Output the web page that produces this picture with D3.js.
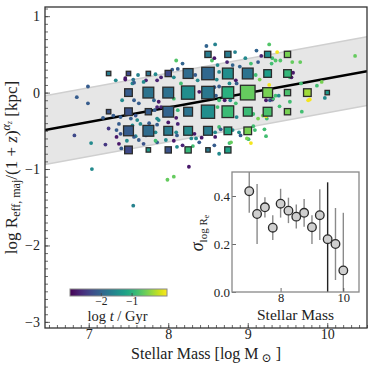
<!DOCTYPE html>
<html>
<head>
<meta charset="utf-8">
<script src="https://cdn.jsdelivr.net/npm/d3@7"></script>
<style>
  body { margin: 0; background: #fff; }
  text { font-family: "Liberation Serif", "DejaVu Serif", serif; fill: #222; }
</style>
</head>
<body>
<div id="chart"></div>
<script>
// binned squares: [log mass, log size, count, log age]
let squares = [
  [7.25, 0.25, 1, -1.7], [7.25, -0.25, 1, -2.2],
  [7.5, 0.25, 1, -2.3], [7.5, 0, 3, -2.1], [7.5, -0.25, 3, -2.2], [7.5, -0.5, 5, -2.1], [7.5, -0.75, 3, -2.3],
  [7.75, 0.25, 1, -1.8], [7.75, 0, 6, -1.8], [7.75, -0.25, 2, -2.1], [7.75, -0.5, 6, -1.9], [7.75, -0.75, 1, -1.3],
  [8.0, 0.25, 2, -2.3], [8.0, 0, 6, -1.85], [8.0, -0.25, 6, -2.0], [8.0, -0.5, 4, -1.7], [8.0, -0.75, 2, -2.2],
  [8.25, 0.25, 5, -1.9], [8.25, 0, 9, -1.45], [8.25, -0.25, 4, -1.8], [8.25, -0.5, 4, -1.5], [8.25, -0.75, 2, -0.9],
  [8.5, 0.5, 2, -1.7], [8.5, 0.25, 8, -1.95], [8.5, 0, 8, -1.75], [8.5, -0.25, 9, -1.45], [8.5, -0.5, 4, -1.7], [8.5, -0.75, 1, -1.7],
  [8.75, 0.5, 2, -1.7], [8.75, 0.25, 6, -1.45], [8.75, 0, 7, -1.0], [8.75, -0.25, 7, -0.85], [8.75, -0.5, 3, -1.1], [8.75, -0.75, 2, -1.2],
  [9.0, 0.25, 6, -1.8], [9.0, 0, 11, -0.6], [9.0, -0.25, 4, -0.85], [9.0, -0.5, 3, -0.5],
  [9.25, 0.5, 2, -1.45], [9.25, 0.25, 3, -1.25], [9.25, 0, 5, -0.5], [9.25, -0.25, 4, -0.75],
  [9.5, 0.5, 2, -0.5], [9.5, 0.25, 3, -0.9], [9.5, 0, 2, -0.75], [9.5, -0.25, 2, -0.5],
  [9.75, 0, 3, -0.3],
  [10.0, 0, 1, -1.3]
]

// individual galaxies: [log mass, log size, log age]
let dots = [
  [6.85,-0.06,-2.1],[6.99,0.08,-2.1],[6.99,-0.14,-2.1],[6.82,-0.56,-2.3],[7.03,-0.66,-1.5],
  [7.21,-0.68,-2.5],[7.25,-0.47,-2.5],[7.18,-0.33,-2.1],[7.04,-1.00,-1.5],[7.34,0.16,-1.5],
  [7.38,-0.67,-2.8],[7.41,-0.73,-2.1],[7.46,0.17,-2.8],[7.55,0.12,-1.5],[7.62,0.23,-1.6],
  [7.56,0.17,-1.8],[7.72,0.16,-2.7],[7.42,-0.10,-1.5],[7.40,-0.32,-2.1],[7.57,-0.10,-2.1],
  [7.59,-0.30,-2.2],[7.61,-0.36,-1.5],[7.55,-0.43,-1.5],[7.38,-0.41,-2.1],[7.31,-0.30,-2.1],
  [7.40,-0.54,-2.2],[7.63,-0.62,-2.1],[7.59,-0.57,-1.6],[7.69,-0.67,-2.2],[7.86,-0.65,-2.1],
  [7.86,-0.34,-1.5],[7.83,-0.23,-2.1],[7.82,-0.10,-2.0],[7.91,-0.19,-2.7],[7.86,0.16,-2.7],
  [8.10,0.42,-0.7],[8.18,0.38,-2.0],[8.12,0.31,-2.1],[8.05,0.30,-2.1],[8.07,0.20,-1.5],
  [8.16,0.12,-0.8],[8.07,-0.08,-0.8],[8.12,-0.23,-0.9],[8.10,-0.33,-2.8],[8.12,-0.41,-2.7],
  [8.10,-0.52,-1.5],[8.07,-0.63,-2.8],[8.18,-0.69,-2.7],[8.11,-0.71,-1.5],[8.26,-0.97,-2.8],
  [8.07,-1.10,-0.6],[7.99,-1.14,-0.6],[7.56,-1.48,-1.6],[8.48,0.61,-2.0],[8.59,0.63,-1.6],
  [8.55,0.42,-0.7],[8.58,0.45,-2.8],[8.62,0.36,-1.5],[8.64,0.27,-1.5],[8.74,0.40,-2.7],
  [8.84,0.53,-1.6],[8.81,0.36,-2.0],[8.90,0.34,-2.0],[8.97,0.45,-1.5],[9.04,0.38,-0.8],
  [9.11,0.55,-2.0],[9.17,0.48,-2.7],[9.13,0.40,-2.1],[9.10,0.23,-0.8],[9.15,0.17,-0.5],
  [9.27,0.63,-0.7],[9.31,0.45,-0.8],[9.30,0.38,-0.8],[9.35,0.42,-0.7],[9.37,0.53,0.1],
  [9.41,0.42,-0.7],[9.57,0.26,-2.8],[9.56,0.40,-0.6],[9.66,0.40,-0.6],[9.53,0.20,-0.8],
  [9.67,0.12,-0.8],[9.87,0.09,-0.8],[9.93,0.14,-0.5],[10.35,0.48,-0.6],[9.27,0.10,0.1],
  [9.35,-0.04,-0.8],[9.28,-0.10,-2.1],[9.23,-0.10,-2.8],[9.31,-0.09,-2.8],[9.40,-0.18,-0.8],
  [9.53,-0.12,-0.8],[9.68,-0.25,-0.8],[9.78,-0.09,0.1],[9.97,-0.07,-1.5],[9.19,-0.30,-0.5],
  [9.13,-0.34,-0.5],[9.24,-0.34,-0.8],[9.07,-0.28,-0.8],[8.85,-0.14,-0.8],[8.86,-0.32,-1.5],
  [8.64,-0.45,-0.8],[8.62,-0.19,-0.8],[8.64,-0.10,-0.8],[8.71,-0.10,-2.8],[8.78,-0.10,-1.5],
  [8.59,-0.52,-1.5],[8.59,-0.58,-2.8],[8.66,-0.48,-2.1],[8.81,-0.49,-1.5],[8.89,-0.52,-1.5],
  [8.91,-0.56,-2.1],[9.07,-0.44,-0.8],[9.09,-0.49,-0.8],[9.23,-0.57,-0.8],[9.21,-0.48,-0.8],
  [9.23,-0.31,0.1],[9.01,-0.61,-0.8],[9.04,-0.66,0.1],[8.99,-0.60,-0.5],[8.77,-0.66,-0.8],
  [8.79,-0.65,-0.6],[8.64,-0.80,-1.5],[8.58,-0.69,-2.1],[8.39,-0.65,-2.1],[8.31,-0.70,-0.8],
  [8.29,-0.60,-1.5],[8.58,0.07,-2.1],[8.39,0.01,-2.8],[8.60,-0.04,-2.1],[8.61,0.17,-1.5],
  [8.37,0.16,-1.5],[8.34,0.23,-2.1],[8.85,0.16,-2.8],[8.86,0.12,-2.1],[8.77,0.12,-1.5],
  [8.64,0.08,-2.1],[9.76,-0.10,0.1],[9.32,-0.08,-0.8],[9.39,-0.04,-1.5],[9.55,0.20,-2.8],
  [7.46,0.19,-2.8],[7.57,0.13,-2.1],[7.69,0.14,-1.5],[7.84,0.24,-1.5],[7.91,0.20,-2.7],
  [7.63,-0.14,-2.1],[7.88,-0.12,-2.8],[7.86,-0.19,-2.7],[7.88,-0.36,-1.5],[8.00,-0.39,-2.8],
  [7.53,-0.34,-2.1],[7.65,-0.41,-1.5],[7.76,-0.40,-2.1],[7.86,-0.42,-2.1],[7.35,-0.49,-2.1],
  [7.84,-0.52,-1.5],[8.03,-0.49,-2.1],[8.33,-0.54,-2.8],[8.11,-0.56,-2.1],[7.35,-0.58,-2.8],
  [7.57,-0.58,-2.1],[7.72,-0.56,-2.1],[8.35,-0.60,-1.5],[7.97,-0.62,-1.5],[7.48,-0.63,-1.5],
  [7.84,-0.63,-0.8],[8.42,-0.59,-2.8]
]

// best-fit relation and its scatter band
let fitMass = [6.45, 10.5]
let fitSize = [-0.49, 0.28]
let fitScatter = 0.45

// inset: scatter of log Re per mass bin
let binMass = [7.0, 7.25, 7.5, 7.75, 8.0, 8.25, 8.5, 8.75, 9.0, 9.25, 9.5, 9.75, 10.0]
let binSigma = [0.42, 0.325, 0.353, 0.268, 0.368, 0.339, 0.314, 0.33, 0.27, 0.32, 0.22, 0.20, 0.09]
let binLow = [0.33, 0.20, 0.31, 0.217, 0.31, 0.287, 0.265, 0.272, 0.20, 0.217, 0.0, 0.05, 0.0]
let binHigh = [0.52, 0.45, 0.395, 0.32, 0.43, 0.393, 0.365, 0.387, 0.32, 0.428, 0.457, 0.35, 0.33]

let xTicks = [7, 8, 9, 10]
let yTicks = [-3, -2, -1, 0, 1]
let cbarTicks = [-2, -1]
let insetXTicks = [8, 10]
let insetYTicks = [0, 0.2, 0.4]

let W = 374, H = 374
let margin = {top: 7, right: 7, bottom: 46, left: 45}

let svg = d3.select("#chart").append("svg")
  .attr("width", W).attr("height", H)

let x = d3.scaleLinear().domain([6.45, 10.5]).range([margin.left, W - margin.right])
let y = d3.scaleLinear().domain([-3.08, 1.12]).range([H - margin.bottom, margin.top])
let color = d3.scaleSequential(d3.interpolateViridis).domain([-3, 0.15])
let side = d3.scaleSqrt().domain([0, 14]).range([0, 16.5])

// d3 axes put a sans font on their group; drop it so the serif rule applies
function serifAxis(g, size) {
  g.attr("font-family", null).attr("font-size", null)
  g.select(".domain").remove()
  g.selectAll(".tick line").attr("stroke", "#444").attr("stroke-width", 0.8)
  g.selectAll(".tick text").style("font-size", size + "px")
}

svg.append("clipPath").attr("id", "plotclip")
  .append("rect")
  .attr("x", x.range()[0]).attr("y", y.range()[1])
  .attr("width", x.range()[1] - x.range()[0])
  .attr("height", y.range()[0] - y.range()[1])

let plot = svg.append("g").attr("clip-path", "url(#plotclip)")

// scatter band
let bandPts = fitMass.map((m, i) => [m, fitSize[i]])
let band = d3.area()
  .x(d => x(d[0]))
  .y0(d => y(d[1] - fitScatter))
  .y1(d => y(d[1] + fitScatter))
plot.append("path").datum(bandPts)
  .attr("d", band)
  .attr("fill", "#e6e6e6")
plot.selectAll(".bandedge").data([-fitScatter, fitScatter]).enter().append("line")
  .attr("x1", x(fitMass[0])).attr("x2", x(fitMass[1]))
  .attr("y1", o => y(fitSize[0] + o)).attr("y2", o => y(fitSize[1] + o))
  .attr("stroke", "#cfcfcf").attr("stroke-width", 1.5)

// fit line
plot.append("line")
  .attr("x1", x(fitMass[0])).attr("x2", x(fitMass[1]))
  .attr("y1", y(fitSize[0])).attr("y2", y(fitSize[1]))
  .attr("stroke", "#000").attr("stroke-width", 2.4)

// individual galaxies
plot.selectAll(".dot").data(dots).enter().append("circle")
  .attr("class", "dot")
  .attr("cx", d => x(d[0]))
  .attr("cy", d => y(d[1]))
  .attr("r", 1.9)
  .attr("fill", d => color(d[2]))

// binned squares
plot.selectAll(".sq").data(squares).enter().append("rect")
  .attr("class", "sq")
  .attr("x", d => x(d[0]) - side(d[2]) / 2)
  .attr("y", d => y(d[1]) - side(d[2]) / 2)
  .attr("width", d => side(d[2]))
  .attr("height", d => side(d[2]))
  .attr("fill", d => color(d[3]))
  .attr("stroke", "#2b2b2b")
  .attr("stroke-width", 1.3)

// AXES (ticks inward, minor every 0.1)
let xAxis = d3.axisBottom(x).tickValues(xTicks).tickSize(-5).tickPadding(6).tickFormat(d3.format("d"))
let yAxis = d3.axisLeft(y).tickValues(yTicks).tickSize(-5).tickPadding(5).tickFormat(d3.format("d"))
let xMinor = d3.axisBottom(x).tickValues(d3.range(6.5, 10.51, 0.1)).tickSize(-3).tickFormat("")
let yMinor = d3.axisLeft(y).tickValues(d3.range(-3.0, 1.11, 0.1)).tickSize(-3).tickFormat("")

let gx = svg.append("g").attr("transform", "translate(0," + y.range()[0] + ")")
gx.append("g").call(xMinor).call(serifAxis, 14)
gx.append("g").call(xAxis).call(serifAxis, 14)
gx.selectAll(".tick text").attr("dy", null).attr("y", 11)
let gy = svg.append("g").attr("transform", "translate(" + x.range()[0] + ",0)")
gy.append("g").call(yMinor).call(serifAxis, 14)
gy.append("g").call(yAxis).call(serifAxis, 14)

svg.append("rect")
  .attr("x", x.range()[0]).attr("y", y.range()[1])
  .attr("width", x.range()[1] - x.range()[0])
  .attr("height", y.range()[0] - y.range()[1])
  .attr("fill", "none").attr("stroke", "#333").attr("stroke-width", 1.3)

// axis titles
svg.append("text")
  .attr("x", (x.range()[0] + x.range()[1]) / 2).attr("y", 359)
  .attr("text-anchor", "middle").style("font-size", "16px")
  .call(t => {
    t.append("tspan").text("Stellar Mass [log M")
    t.append("tspan").attr("dy", 3).style("font-size", "12px").text(" \u2299")
    t.append("tspan").attr("dy", -3).text(" ]")
  })

let yl = svg.append("text")
  .attr("transform", "translate(17," + ((y.range()[0] + y.range()[1]) / 2) + ") rotate(-90)")
  .attr("text-anchor", "middle").style("font-size", "17px")
yl.append("tspan").text("log R")
yl.append("tspan").attr("dy", 3).style("font-size", "12px").text("eff, maj")
yl.append("tspan").attr("dy", -3).text("/(1 + ")
yl.append("tspan").style("font-style", "italic").text("z")
yl.append("tspan").text(")")
yl.append("tspan").attr("dy", -7).style("font-size", "12px").style("font-style", "italic").text("\u03b1")
yl.append("tspan").attr("dy", 2).style("font-size", "8px").style("font-style", "italic").text("z")
yl.append("tspan").attr("dy", 5).text(" [kpc]")

// COLORBAR
let cb = {x0: 70, x1: 167, y0: 289, h: 7}
let cbx = d3.scaleLinear().domain(color.domain()).range([cb.x0, cb.x1])
let grad = svg.append("defs").append("linearGradient").attr("id", "viridis")
d3.range(0, 1.001, 0.05).forEach(t => {
  grad.append("stop").attr("offset", t).attr("stop-color", d3.interpolateViridis(t))
})
svg.append("rect")
  .attr("x", cb.x0).attr("y", cb.y0).attr("width", cb.x1 - cb.x0).attr("height", cb.h)
  .attr("fill", "url(#viridis)").attr("stroke", "#888").attr("stroke-width", 1)
let gcb = svg.append("g").attr("transform", "translate(0," + (cb.y0 + cb.h) + ")")
  .call(d3.axisBottom(cbx).tickValues(cbarTicks).tickSize(-3).tickPadding(2).tickFormat(d3.format("d")))
  .call(serifAxis, 11.5)
gcb.selectAll(".tick text").attr("dy", null).attr("y", 9)
let cbl = svg.append("text")
  .attr("x", (cb.x0 + cb.x1) / 2 - 1).attr("y", 321)
  .attr("text-anchor", "middle").style("font-size", "14.5px")
cbl.append("tspan").text("log ")
cbl.append("tspan").style("font-style", "italic").text("t")
cbl.append("tspan").text(" / Gyr")

// INSET
let ix = d3.scaleLinear().domain([6.45, 10.5]).range([232, 359])
let iy = d3.scaleLinear().domain([0, 0.5]).range([292, 172])

svg.append("rect")
  .attr("x", 232).attr("y", 172).attr("width", 127).attr("height", 120)
  .attr("fill", "#fff")
svg.append("clipPath").attr("id", "insetclip")
  .append("rect").attr("x", 232).attr("y", 172).attr("width", 127).attr("height", 120)

let ins = svg.append("g").attr("clip-path", "url(#insetclip)")
let bins = binMass.map((m, i) => ({m: m, s: binSigma[i], lo: binLow[i], hi: binHigh[i]}))
ins.selectAll(".err").data(bins).enter().append("line")
  .attr("x1", d => ix(d.m)).attr("x2", d => ix(d.m))
  .attr("y1", d => iy(d.lo)).attr("y2", d => iy(d.hi))
  .attr("stroke", d => (d.hi - d.lo) > 0.4 ? "#222" : "#8a8a8a")
  .attr("stroke-width", 1.4)
ins.selectAll(".pt").data(bins).enter().append("circle")
  .attr("cx", d => ix(d.m)).attr("cy", d => iy(d.s))
  .attr("r", 4.3)
  .attr("fill", "#cfcfcf").attr("stroke", "#2b2b2b").attr("stroke-width", 1.3)

let gix = svg.append("g").attr("transform", "translate(0,292)")
  .call(d3.axisBottom(ix).tickValues(insetXTicks).tickSize(-4).tickPadding(2).tickFormat(d3.format("d")))
  .call(serifAxis, 12.5)
gix.selectAll(".tick text").attr("dy", null).attr("y", 10)
let giy = svg.append("g").attr("transform", "translate(232,0)")
  .call(d3.axisLeft(iy).tickValues(insetYTicks).tickSize(-4).tickPadding(2).tickFormat(d3.format(".1f")))
  .call(serifAxis, 13)

svg.append("rect")
  .attr("x", 232).attr("y", 172).attr("width", 127).attr("height", 120)
  .attr("fill", "none").attr("stroke", "#888").attr("stroke-width", 1.3)

svg.append("text")
  .attr("x", 295.5).attr("y", 320)
  .attr("text-anchor", "middle").style("font-size", "15.5px")
  .text("Stellar Mass")

let sl = svg.append("text")
  .attr("transform", "translate(203,233) rotate(-90)")
  .attr("text-anchor", "middle").style("font-size", "18px")
sl.append("tspan").style("font-style", "italic").text("\u03c3")
sl.append("tspan").attr("dy", 4).style("font-size", "11px").text("log R")
sl.append("tspan").attr("dy", 2).style("font-size", "8px").text("e")
</script>
</body>
</html>
